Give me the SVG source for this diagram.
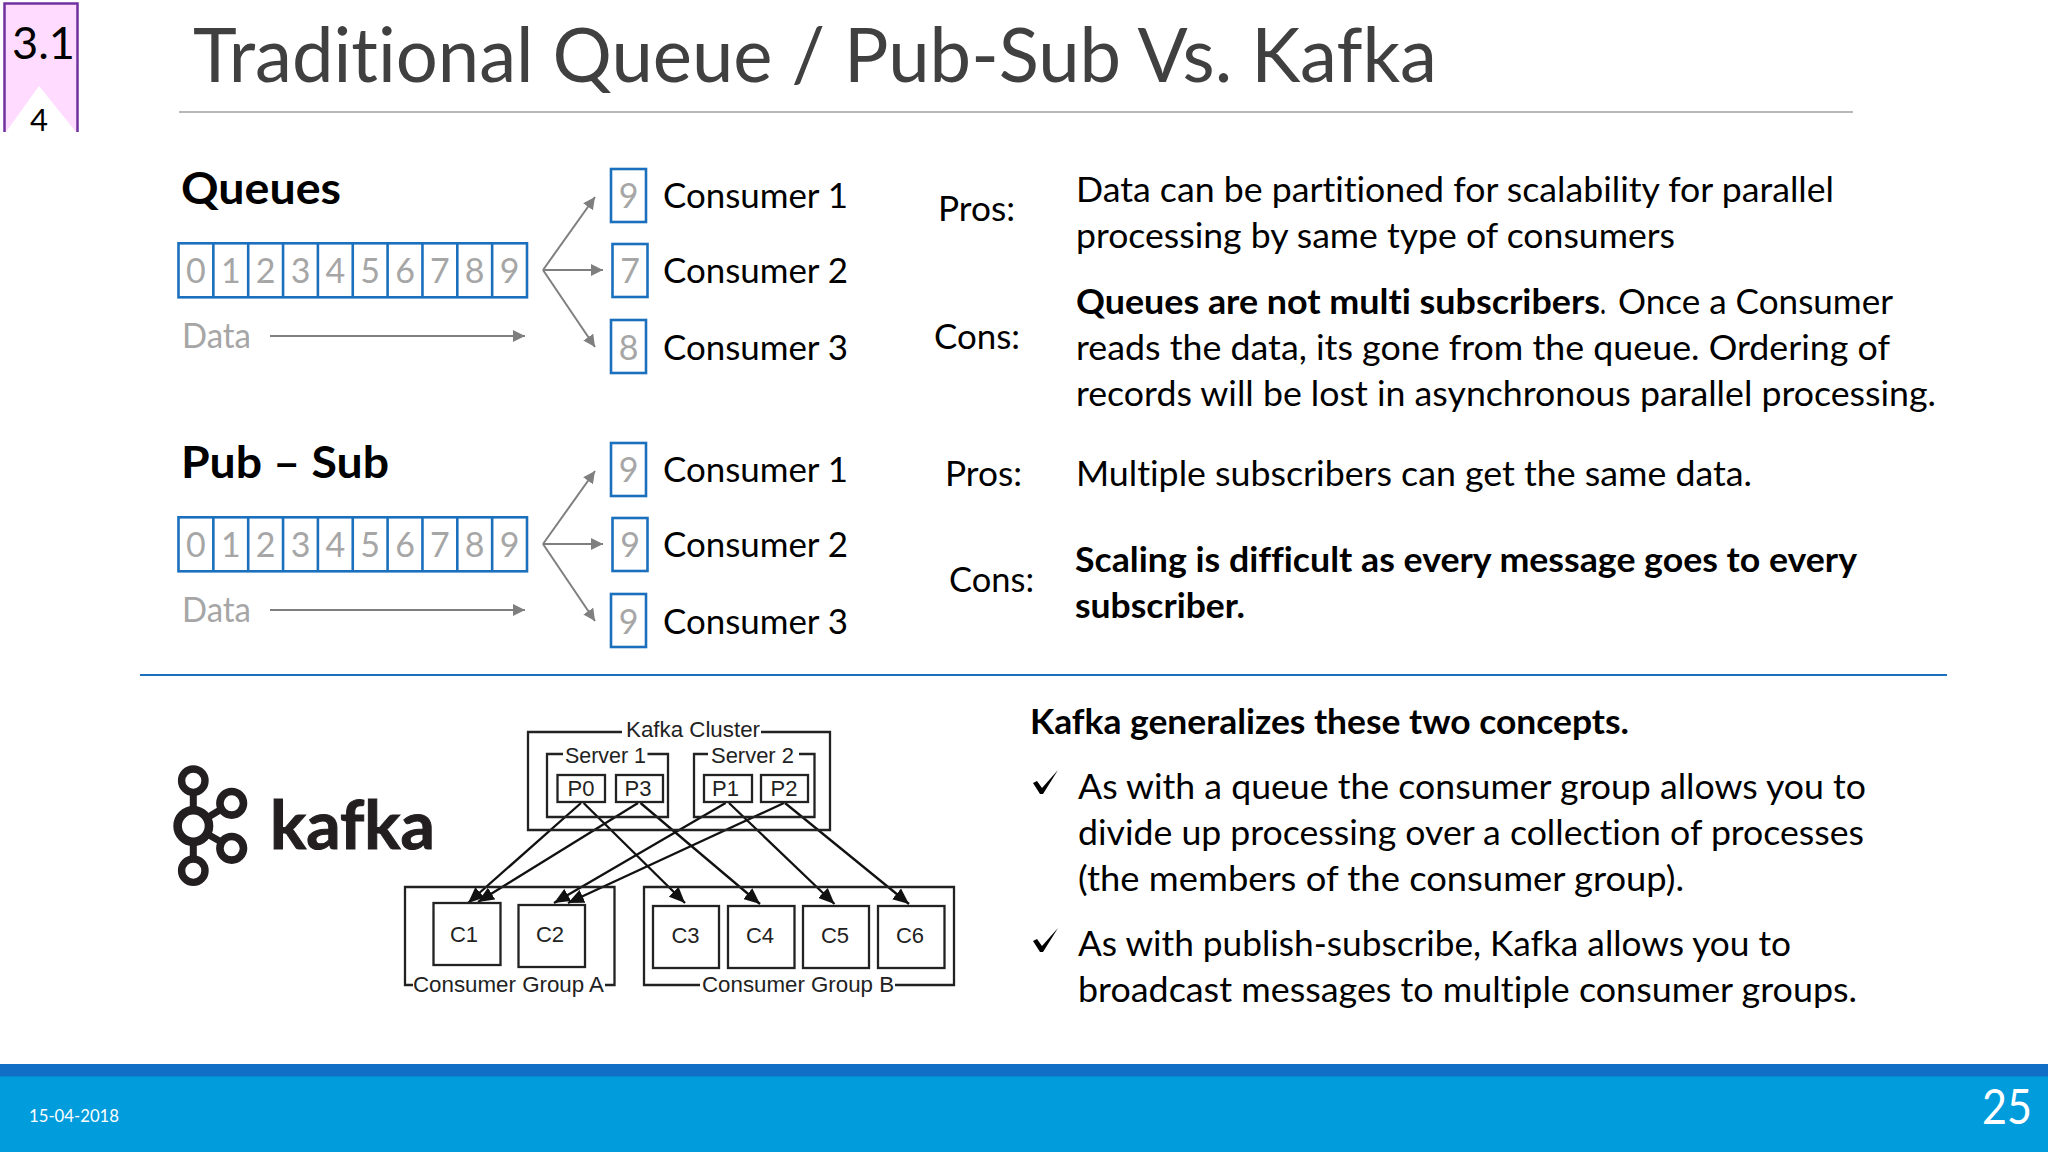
<svg xmlns="http://www.w3.org/2000/svg" width="2048" height="1152" viewBox="0 0 2048 1152">
<style>
text{font-family:"Lato","Carlito","Liberation Sans",sans-serif;fill:#000;font-variant-ligatures:none}
.b{font-size:35px}
.bb{font-size:35px;font-weight:700}
.h{font-size:44px;font-weight:700}
.g{font-size:34px;fill:#a6a6a6}
.gm{font-size:34px;fill:#a6a6a6;text-anchor:middle}
.cell{fill:#fff;stroke:#1b70bd;stroke-width:2.6}
.ga{stroke:#7f7f7f;stroke-width:2;fill:none;marker-end:url(#ah)}
.ka{stroke:#111;stroke-width:2.3;fill:none;marker-end:url(#bh)}
.o{fill:none;stroke:#222;stroke-width:2.3}
.l{font-family:"Liberation Sans",sans-serif;font-size:22px;fill:#222}
.lm{font-family:"Liberation Sans",sans-serif;font-size:22px;fill:#222;text-anchor:middle}
.r{fill:#fff;stroke:#231f20}
</style>
<defs>
<marker id="ah" markerUnits="userSpaceOnUse" viewBox="0 0 12 12" refX="12" refY="6" markerWidth="12" markerHeight="12" orient="auto"><path d="M0 0L12 6L0 12Z" fill="#7f7f7f"/></marker>
<marker id="bh" markerUnits="userSpaceOnUse" viewBox="0 0 16 14" refX="16" refY="7" markerWidth="16" markerHeight="14" orient="auto"><path d="M0 0L16 7L0 14Z" fill="#111"/></marker>
<g id="q10">
<rect class="cell" x="0" y="0" width="348.5" height="54"/>
<path class="cell" d="M34.85 0V54M69.7 0V54M104.55 0V54M139.4 0V54M174.25 0V54M209.1 0V54M243.95 0V54M278.8 0V54M313.65 0V54"/>
<g><text class="gm" x="17.4" y="39.5">0</text><text class="gm" x="52.3" y="39.5">1</text><text class="gm" x="87.1" y="39.5">2</text><text class="gm" x="122" y="39.5">3</text><text class="gm" x="156.8" y="39.5">4</text><text class="gm" x="191.7" y="39.5">5</text><text class="gm" x="226.5" y="39.5">6</text><text class="gm" x="261.4" y="39.5">7</text><text class="gm" x="296.2" y="39.5">8</text><text class="gm" x="331.1" y="39.5">9</text></g>
</g>
</defs>
<rect width="2048" height="1152" fill="#fff"/>

<g id="badge">
<rect x="4.5" y="3.5" width="73" height="128.5" fill="#ffdcff"/>
<path d="M39 86L6 132H76Z" fill="#fff"/>
<path d="M4.5 132V3.5H77.5V132" fill="none" stroke="#7030a0" stroke-width="2.5"/>
<text x="12" y="59" font-size="44" textLength="63" lengthAdjust="spacingAndGlyphs">3.1</text>
<text x="39" y="131" font-size="31" text-anchor="middle">4</text>
</g>

<g id="title">
<text x="193" y="82" font-size="75" style="fill:#404040" textLength="1244" lengthAdjust="spacingAndGlyphs">Traditional Queue / Pub-Sub Vs. Kafka</text>
<path d="M179 112H1853" stroke="#a0a0a0" stroke-width="1.6"/>
</g>

<g id="connectors">
<path class="ga" d="M270 336H525"/>
<path class="ga" d="M543 270L595 197"/>
<path class="ga" d="M543 270H603"/>
<path class="ga" d="M543 270L595 347"/>
<path class="ga" d="M270 610H525"/>
<path class="ga" d="M543 544L595 471"/>
<path class="ga" d="M543 544H603"/>
<path class="ga" d="M543 544L595 621"/>
<path class="ka" d="M581 803L468 903"/>
<path class="ka" d="M638 803L478 902"/>
<path class="ka" d="M583.600 803L685 903"/>
<path class="ka" d="M640.500 803L760 904"/>
<path class="ka" d="M725.600 803L554 903"/>
<path class="ka" d="M784 803L568 903"/>
<path class="ka" d="M729 803L834.500 904"/>
<path class="ka" d="M785 803L909 904"/>
</g>

<g id="queues">
<text class="h" x="181" y="204" textLength="160" lengthAdjust="spacingAndGlyphs">Queues</text>
<use href="#q10" x="178.500" y="243.300"/>
<text class="g" x="182" y="348" textLength="69" lengthAdjust="spacingAndGlyphs">Data</text>
</g>
<g id="q-consumer-1">
<rect class="cell" x="611" y="169" width="35" height="53"/><text class="gm" x="628.500" y="208">9</text>
<text class="b" x="663" y="208" textLength="185" lengthAdjust="spacingAndGlyphs">Consumer 1</text>
</g>
<g id="q-consumer-2">
<rect class="cell" x="612.500" y="244" width="35" height="53"/><text class="gm" x="630" y="283">7</text>
<text class="b" x="663" y="283" textLength="185" lengthAdjust="spacingAndGlyphs">Consumer 2</text>
</g>
<g id="q-consumer-3">
<rect class="cell" x="611" y="320" width="35" height="53"/><text class="gm" x="628.500" y="360">8</text>
<text class="b" x="663" y="360" textLength="185" lengthAdjust="spacingAndGlyphs">Consumer 3</text>
</g>

<g id="pubsub">
<text class="h" x="181" y="478" textLength="208" lengthAdjust="spacingAndGlyphs">Pub – Sub</text>
<use href="#q10" x="178.500" y="517.300"/>
<text class="g" x="182" y="622" textLength="69" lengthAdjust="spacingAndGlyphs">Data</text>
</g>
<g id="p-consumer-1">
<rect class="cell" x="611" y="443" width="35" height="53"/><text class="gm" x="628.500" y="482">9</text>
<text class="b" x="663" y="482" textLength="185" lengthAdjust="spacingAndGlyphs">Consumer 1</text>
</g>
<g id="p-consumer-2">
<rect class="cell" x="612.500" y="518" width="35" height="53"/><text class="gm" x="630" y="557">9</text>
<text class="b" x="663" y="557" textLength="185" lengthAdjust="spacingAndGlyphs">Consumer 2</text>
</g>
<g id="p-consumer-3">
<rect class="cell" x="611" y="594" width="35" height="53"/><text class="gm" x="628.500" y="634">9</text>
<text class="b" x="663" y="634" textLength="185" lengthAdjust="spacingAndGlyphs">Consumer 3</text>
</g>

<g id="queue-notes">
<text class="b" x="938" y="221" textLength="77" lengthAdjust="spacingAndGlyphs">Pros:</text>
<text class="b" x="1076" y="202" textLength="758" lengthAdjust="spacingAndGlyphs">Data can be partitioned for scalability for parallel</text>
<text class="b" x="1076" y="248" textLength="599" lengthAdjust="spacingAndGlyphs">processing by same type of consumers</text>
<text class="b" x="934" y="349" textLength="86" lengthAdjust="spacingAndGlyphs">Cons:</text>
<text class="bb" x="1076" y="314" textLength="524" lengthAdjust="spacingAndGlyphs">Queues are not multi subscribers</text>
<text class="b" x="1600" y="314" textLength="6" lengthAdjust="spacingAndGlyphs">.</text>
<text class="b" x="1618" y="314" textLength="275" lengthAdjust="spacingAndGlyphs">Once a Consumer</text>
<text class="b" x="1076" y="360" textLength="814" lengthAdjust="spacingAndGlyphs">reads the data, its gone from the queue. Ordering of</text>
<text class="b" x="1076" y="406" textLength="860" lengthAdjust="spacingAndGlyphs">records will be lost in asynchronous parallel processing.</text>
</g>

<g id="pubsub-notes">
<text class="b" x="945" y="486" textLength="77" lengthAdjust="spacingAndGlyphs">Pros:</text>
<text class="b" x="1076" y="486" textLength="676" lengthAdjust="spacingAndGlyphs">Multiple subscribers can get the same data.</text>
<text class="b" x="949" y="592" textLength="85" lengthAdjust="spacingAndGlyphs">Cons:</text>
<text class="bb" x="1075" y="572" textLength="782" lengthAdjust="spacingAndGlyphs">Scaling is difficult as every message goes to every</text>
<text class="bb" x="1075" y="618" textLength="170" lengthAdjust="spacingAndGlyphs">subscriber.</text>
</g>

<path id="divider" d="M140 675H1947" stroke="#1b70bd" stroke-width="2.2"/>

<g id="kafka-logo">
<path d="M193.300 780V871M193.300 826L231.700 803M193.300 826L231.700 848" stroke="#231f20" stroke-width="7" fill="none"/>
<circle class="r" cx="193.300" cy="780.700" r="11.700" stroke-width="7.400"/>
<circle class="r" cx="193.300" cy="826" r="15.700" stroke-width="8.600"/>
<circle class="r" cx="193.300" cy="870.700" r="11.700" stroke-width="7.400"/>
<circle class="r" cx="231.700" cy="803.300" r="11.800" stroke-width="7.600"/>
<circle class="r" cx="231.700" cy="848.300" r="11.800" stroke-width="7.600"/>
<text x="270" y="849" font-size="66" font-weight="700" style="fill:#231f20;stroke:#231f20;stroke-width:1" textLength="165" lengthAdjust="spacingAndGlyphs">kafka</text>
</g>

<g id="kafka-cluster">
<path class="o" d="M622 732H528V830H830V732H761"/>
<text class="l" x="626" y="737" textLength="134" lengthAdjust="spacingAndGlyphs">Kafka Cluster</text>
</g>
<g id="server-1">
<path class="o" d="M563 754H547V817H668V754H647.500"/>
<text class="l" x="565" y="763" textLength="81" lengthAdjust="spacingAndGlyphs">Server 1</text>
</g>
<g id="server-2">
<path class="o" d="M708 754H694V817H814.500V754H799"/>
<text class="l" x="711" y="763" textLength="83" lengthAdjust="spacingAndGlyphs">Server 2</text>
</g>
<g id="p0"><rect class="o" x="557.500" y="775" width="47.500" height="27"/><text class="lm" x="581" y="796">P0</text></g>
<g id="p3"><rect class="o" x="616" y="775" width="47" height="27"/><text class="lm" x="638" y="796">P3</text></g>
<g id="p1"><rect class="o" x="704" y="775" width="48" height="27"/><text class="lm" x="725.500" y="796">P1</text></g>
<g id="p2"><rect class="o" x="761" y="775" width="47" height="27"/><text class="lm" x="784" y="796">P2</text></g>

<g id="group-a">
<path class="o" d="M413 985H405V887H614.500V985H605"/>
<text class="l" x="413" y="992" textLength="191" lengthAdjust="spacingAndGlyphs">Consumer Group A</text>
</g>
<g id="group-b">
<path class="o" d="M700 985H644V887H954V985H895"/>
<text class="l" x="702" y="992" textLength="192" lengthAdjust="spacingAndGlyphs">Consumer Group B</text>
</g>
<g id="c1"><rect class="o" x="433.500" y="903" width="67" height="62"/><text class="lm" x="464" y="942">C1</text></g>
<g id="c2"><rect class="o" x="518.500" y="905" width="66.500" height="62"/><text class="lm" x="550" y="942">C2</text></g>
<g id="c3"><rect class="o" x="653" y="906" width="66" height="62"/><text class="lm" x="685.500" y="943">C3</text></g>
<g id="c4"><rect class="o" x="728" y="906" width="66.500" height="62"/><text class="lm" x="760" y="943">C4</text></g>
<g id="c5"><rect class="o" x="803" y="906" width="66" height="62"/><text class="lm" x="835" y="943">C5</text></g>
<g id="c6"><rect class="o" x="878" y="906" width="66.500" height="62"/><text class="lm" x="910" y="943">C6</text></g>

<g id="kafka-notes">
<text class="bb" x="1030" y="734" textLength="599" lengthAdjust="spacingAndGlyphs">Kafka generalizes these two concepts.</text>
<path d="M1033 783L1037 781L1042 788L1058 770L1043 794L1040 794Z" fill="#000"/>
<text class="b" x="1078" y="799" textLength="788" lengthAdjust="spacingAndGlyphs">As with a queue the consumer group allows you to</text>
<text class="b" x="1078" y="845" textLength="786" lengthAdjust="spacingAndGlyphs">divide up processing over a collection of processes</text>
<text class="b" x="1078" y="891" textLength="606" lengthAdjust="spacingAndGlyphs">(the members of the consumer group).</text>
<path d="M1033 941L1037 939L1042 946L1058 928L1043 952L1040 952Z" fill="#000"/>
<text class="b" x="1078" y="956" textLength="713" lengthAdjust="spacingAndGlyphs">As with publish-subscribe, Kafka allows you to</text>
<text class="b" x="1078" y="1002" textLength="779" lengthAdjust="spacingAndGlyphs">broadcast messages to multiple consumer groups.</text>
</g>

<g id="footer">
<rect x="0" y="1064" width="2048" height="88" fill="#009cdc"/>
<rect x="0" y="1064" width="2048" height="12.500" fill="#1170c6"/>
<text x="29" y="1122" font-size="17" style="fill:#fff" textLength="90" lengthAdjust="spacingAndGlyphs">15-04-2018</text>
<text x="1982" y="1124" font-size="48" style="fill:#fff" textLength="50" lengthAdjust="spacingAndGlyphs">25</text>
</g>
</svg>
